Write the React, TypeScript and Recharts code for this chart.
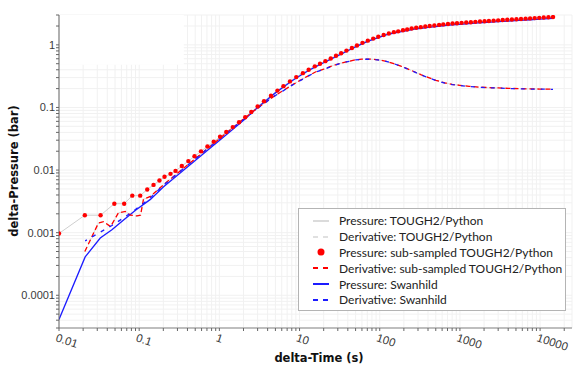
import React from 'react';
import { ComposedChart, Line, XAxis, YAxis, CartesianGrid, ReferenceArea } from 'recharts';

// axis ticks (decades get a label, the rest are minor ticks)
const xMajorTicks = [0.01, 0.1, 1, 10, 100, 1000, 10000];
const xTickLabels = ['0.01', '0.1', '1', '10', '100', '1000', '10000'];
const yMajorTicks = [0.0001, 0.001, 0.01, 0.1, 1];
const yTickLabels = ['0.0001', '0.001', '0.01', '0.1', '1'];
const xDomain = [0.01, 25000];
const yDomain = [3e-5, 3];

// sub-sampled TOUGH2/Python pressure (red dots, grey line)
const subTime = [
  0.01, 0.021, 0.033, 0.049, 0.065, 0.082, 0.103, 0.126, 0.151, 0.179, 0.207, 0.246, 0.284,
  0.34, 0.41, 0.49, 0.59, 0.71, 0.85, 1.02, 1.22, 1.47, 1.76,
  2.1, 2.5, 3.0, 3.6, 4.4, 5.3, 6.3, 7.6, 9.1,
  11, 13, 15.5, 18, 21, 24.5, 28.5, 33, 38.5, 45, 52,
  61, 71, 83, 96, 112, 130, 150,
  170, 195, 220, 250, 285, 325, 370, 420, 480, 550, 620,
  710, 810, 920, 1050, 1200, 1370, 1560, 1780, 2030, 2300, 2630,
  3000, 3420, 3900, 4450, 5070, 5780, 6590, 7500, 8560, 9760, 11100, 12700, 14500,
];
const subPressure = [
  0.00097, 0.0019, 0.0019, 0.0029, 0.0029, 0.0039, 0.0039, 0.0049, 0.0058, 0.0068, 0.0078, 0.0087, 0.0097,
  0.0116, 0.0139, 0.0166, 0.0199, 0.0238, 0.0284, 0.034, 0.0405, 0.0486, 0.0579,
  0.0697, 0.0846, 0.1035, 0.1256, 0.154, 0.186, 0.219, 0.2607, 0.3056,
  0.3534, 0.4015, 0.4534, 0.4986, 0.5497, 0.6066, 0.6685, 0.7345, 0.81, 0.8935, 0.978,
  1.078, 1.167, 1.259, 1.348, 1.439, 1.52, 1.595,
  1.645, 1.709, 1.761, 1.83, 1.877, 1.92, 1.962, 2.002, 2.044, 2.085, 2.123,
  2.159, 2.189, 2.218, 2.248, 2.276, 2.303, 2.33, 2.358, 2.385, 2.411, 2.439,
  2.466, 2.492, 2.517, 2.543, 2.569, 2.595, 2.621, 2.647, 2.675, 2.703, 2.73, 2.759, 2.786,
];

// sub-sampled TOUGH2/Python derivative (red dashed)
const subDerivTime = [
  0.021, 0.031, 0.036, 0.044, 0.055, 0.067, 0.078, 0.094, 0.104, 0.113,
  0.138, 0.2, 0.3, 0.5, 0.7, 1, 1.5, 2,
  3, 4, 5, 6.5, 8, 10,
  13, 16, 20, 25, 32, 40, 50, 60, 72, 85, 100,
  120, 150, 180, 220, 270, 330, 400, 500, 650, 800, 1000,
  1300, 1700, 2200, 3000, 4000, 5500, 7500, 10000, 14500,
];
const subDerivative = [
  0.0005, 0.00142, 0.0015, 0.00125, 0.00207, 0.00218, 0.0019, 0.00185, 0.0019, 0.0034,
  0.0038, 0.0058, 0.0089, 0.0152, 0.0217, 0.0316, 0.0485, 0.0655,
  0.098, 0.128, 0.156, 0.192, 0.227, 0.268,
  0.323, 0.372, 0.408, 0.458, 0.507, 0.542, 0.577, 0.59, 0.592, 0.587, 0.572,
  0.547, 0.502, 0.462, 0.417, 0.372, 0.332, 0.302, 0.272, 0.247, 0.234, 0.226,
  0.218, 0.212, 0.208, 0.205, 0.202, 0.2, 0.198, 0.197, 0.196,
];

// Swanhild (blue)
const swanTime = [
  0.01, 0.0212, 0.0327, 0.0457, 0.065, 0.09, 0.138, 0.2, 0.3, 0.5, 0.7, 1, 1.5, 2.04,
  3, 4, 5, 6.5, 8, 10,
  13, 16, 20, 25, 32, 40, 50, 60, 72, 85, 100,
  120, 150, 180, 220, 270, 330, 400, 500, 650, 800, 1000,
  1300, 1700, 2200, 3000, 4000, 5500, 7500, 10000, 14500,
];
const swanPressure = [
  4.1e-5, 4.1e-4, 8.2e-4, 0.00111, 0.00162, 0.00228, 0.0034, 0.00535, 0.00824, 0.0142, 0.0203, 0.0297, 0.0457, 0.0634,
  0.1, 0.135, 0.171, 0.218, 0.265, 0.319,
  0.39, 0.45, 0.518, 0.598, 0.7, 0.805, 0.93, 1.04, 1.145, 1.24, 1.335,
  1.44, 1.54, 1.615, 1.69, 1.78, 1.84, 1.9, 1.96, 2.04, 2.08, 2.13,
  2.18, 2.24, 2.29, 2.35, 2.4, 2.46, 2.52, 2.58, 2.65,
];
const swanDerivative = [
  null, 0.00074, 0.00102, 0.0013, 0.00175, 0.00235, 0.0036, 0.0057, 0.0088, 0.0151, 0.0215, 0.0313, 0.048, 0.065,
  0.097, 0.127, 0.155, 0.19, 0.225, 0.265,
  0.32, 0.37, 0.405, 0.455, 0.505, 0.54, 0.575, 0.588, 0.59, 0.585, 0.57,
  0.545, 0.5, 0.46, 0.415, 0.37, 0.33, 0.3, 0.27, 0.245, 0.232, 0.224,
  0.216, 0.211, 0.207, 0.204, 0.201, 0.199, 0.197, 0.196, 0.195,
];

const RED = '#ff0000';
const BLUE = '#1c1cff';
const GREY = '#cfcfcf';

const toRows = (ts: number[], vs: (number | null)[]) =>
  ts.map((t, i) => ({ t, v: vs[i] })).filter((r) => r.v != null);

const subPressureData = toRows(subTime, subPressure);
const subDerivData = toRows(subDerivTime, subDerivative);
const swanPressureData = toRows(swanTime, swanPressure);
const swanDerivData = toRows(swanTime, swanDerivative);

const minorTicks = (decades: number[], lo: number, hi: number) =>
  decades
    .flatMap((d) => [1, 2, 3, 4, 5, 6, 7, 8, 9].map((m) => m * d))
    .filter((v) => v >= lo * 0.999 && v <= hi * 1.001);

const xTicks = minorTicks([0.01, 0.1, 1, 10, 100, 1000, 10000], xDomain[0], xDomain[1]);
const yTicks = minorTicks([1e-5, 1e-4, 1e-3, 1e-2, 0.1, 1], yDomain[0], yDomain[1]);

const legendItems = [
  { label: 'Pressure: TOUGH2/Python', kind: 'line', color: GREY, dash: undefined, width: 1.5 },
  { label: 'Derivative: TOUGH2/Python', kind: 'line', color: '#d6d6d6', dash: '5 5', width: 1.5 },
  { label: 'Pressure: sub-sampled TOUGH2/Python', kind: 'dot', color: RED, dash: undefined, width: 0 },
  { label: 'Derivative: sub-sampled TOUGH2/Python', kind: 'line', color: RED, dash: '5 5', width: 2 },
  { label: 'Pressure: Swanhild', kind: 'line', color: BLUE, dash: undefined, width: 2 },
  { label: 'Derivative: Swanhild', kind: 'line', color: BLUE, dash: '5 5', width: 2 },
];

const tickFont = '"Liberation Sans", Arial, sans-serif';

function TimeTick({ x, y, payload }: any) {
  const i = xMajorTicks.indexOf(payload.value);
  if (i < 0) return <g />;
  const tx = x - 4;
  const ty = y + 8;
  return (
    <text x={tx} y={ty} transform={`rotate(18 ${tx} ${ty})`} fontSize={11.5} fill="#3a3a3a" fontFamily={tickFont}>
      {xTickLabels[i]}
    </text>
  );
}

function PressureTick({ x, y, payload }: any) {
  const i = yMajorTicks.indexOf(payload.value);
  if (i < 0) return <g />;
  return (
    <text x={x} y={y} dy="0.35em" textAnchor="end" fontSize={11} fill="#3a3a3a" fontFamily={tickFont}>
      {yTickLabels[i]}
    </text>
  );
}

export default function App() {
  return (
    <div style={{ position: 'absolute', left: 0, top: 0, width: 576, height: 365, background: '#fff' }}>
      <ComposedChart width={576} height={365} margin={{ top: 15, right: 4, bottom: 0, left: 0 }}>
        <CartesianGrid stroke="#f1f1f1" />
        <XAxis
          dataKey="t"
          type="number"
          scale="log"
          domain={xDomain}
          allowDataOverflow
          ticks={xTicks}
          interval={0}
          tick={<TimeTick />}
          tickSize={3}
          tickLine={{ stroke: '#666' }}
          axisLine={{ stroke: '#888' }}
          height={37}
        />
        <YAxis
          dataKey="v"
          type="number"
          scale="log"
          domain={yDomain}
          allowDataOverflow
          ticks={yTicks}
          interval={0}
          tick={<PressureTick />}
          tickSize={3}
          tickMargin={1}
          tickLine={{ stroke: '#666' }}
          axisLine={{ stroke: '#666' }}
          width={59}
        />
        <ReferenceArea x1={0.0102} x2={0.36} y1={0.48} y2={3} fill="#fff" fillOpacity={1} stroke="none" />
        <Line data={subDerivData} dataKey="v" type="linear" stroke="#d6d6d6" strokeWidth={1} strokeDasharray="5 5" dot={false} activeDot={false} isAnimationActive={false} />
        <Line data={subPressureData} dataKey="v" type="linear" stroke={GREY} strokeWidth={1} dot={false} activeDot={false} isAnimationActive={false} />
        <Line data={subPressureData} dataKey="v" type="linear" stroke="none" dot={{ r: 2.2, fill: RED, stroke: 'none' }} activeDot={false} isAnimationActive={false} />
        <Line data={swanPressureData} dataKey="v" type="linear" stroke={BLUE} strokeWidth={1.3} dot={false} activeDot={false} isAnimationActive={false} />
        <Line data={subDerivData} dataKey="v" type="linear" stroke={RED} strokeWidth={1.3} strokeDasharray="5 3" dot={false} activeDot={false} isAnimationActive={false} />
        <Line data={swanDerivData} dataKey="v" type="linear" stroke={BLUE} strokeWidth={1.3} strokeDasharray="4 6" strokeDashoffset={2} dot={false} activeDot={false} isAnimationActive={false} />
      </ComposedChart>

      <div
        style={{
          position: 'absolute',
          left: 14,
          top: 171,
          transform: 'translate(-50%, -50%) rotate(-90deg)',
          whiteSpace: 'nowrap',
          fontFamily: '"DejaVu Sans", sans-serif',
          fontWeight: 'bold',
          fontSize: 11.5,
          color: '#111',
        }}
      >
        delta-Pressure (bar)
      </div>
      <div
        style={{
          position: 'absolute',
          left: 319,
          top: 358,
          transform: 'translate(-50%, -50%)',
          whiteSpace: 'nowrap',
          fontFamily: '"DejaVu Sans", sans-serif',
          fontWeight: 'bold',
          fontSize: 11.5,
          color: '#111',
        }}
      >
        delta-Time (s)
      </div>

      <div
        style={{
          position: 'absolute',
          left: 298,
          top: 208,
          width: 268,
          height: 103,
          boxSizing: 'border-box',
          border: '1px solid #b4b4b4',
          background: '#fff',
          paddingTop: 4,
          fontFamily: 'Lato, sans-serif',
          fontSize: 12,
          color: '#222',
        }}
      >
        {legendItems.map((item) => (
          <div key={item.label} style={{ display: 'flex', alignItems: 'center', height: 15.8 }}>
            <svg width={16} height={8} style={{ marginLeft: 14, marginRight: 10 }}>
              {item.kind === 'dot' ? (
                <circle cx={8} cy={4} r={3.5} fill={item.color} />
              ) : (
                <line x1={0} y1={4} x2={16} y2={4} stroke={item.color} strokeWidth={item.width} strokeDasharray={item.dash} />
              )}
            </svg>
            <span style={{ whiteSpace: 'nowrap' }}>{item.label}</span>
          </div>
        ))}
      </div>
    </div>
  );
}
